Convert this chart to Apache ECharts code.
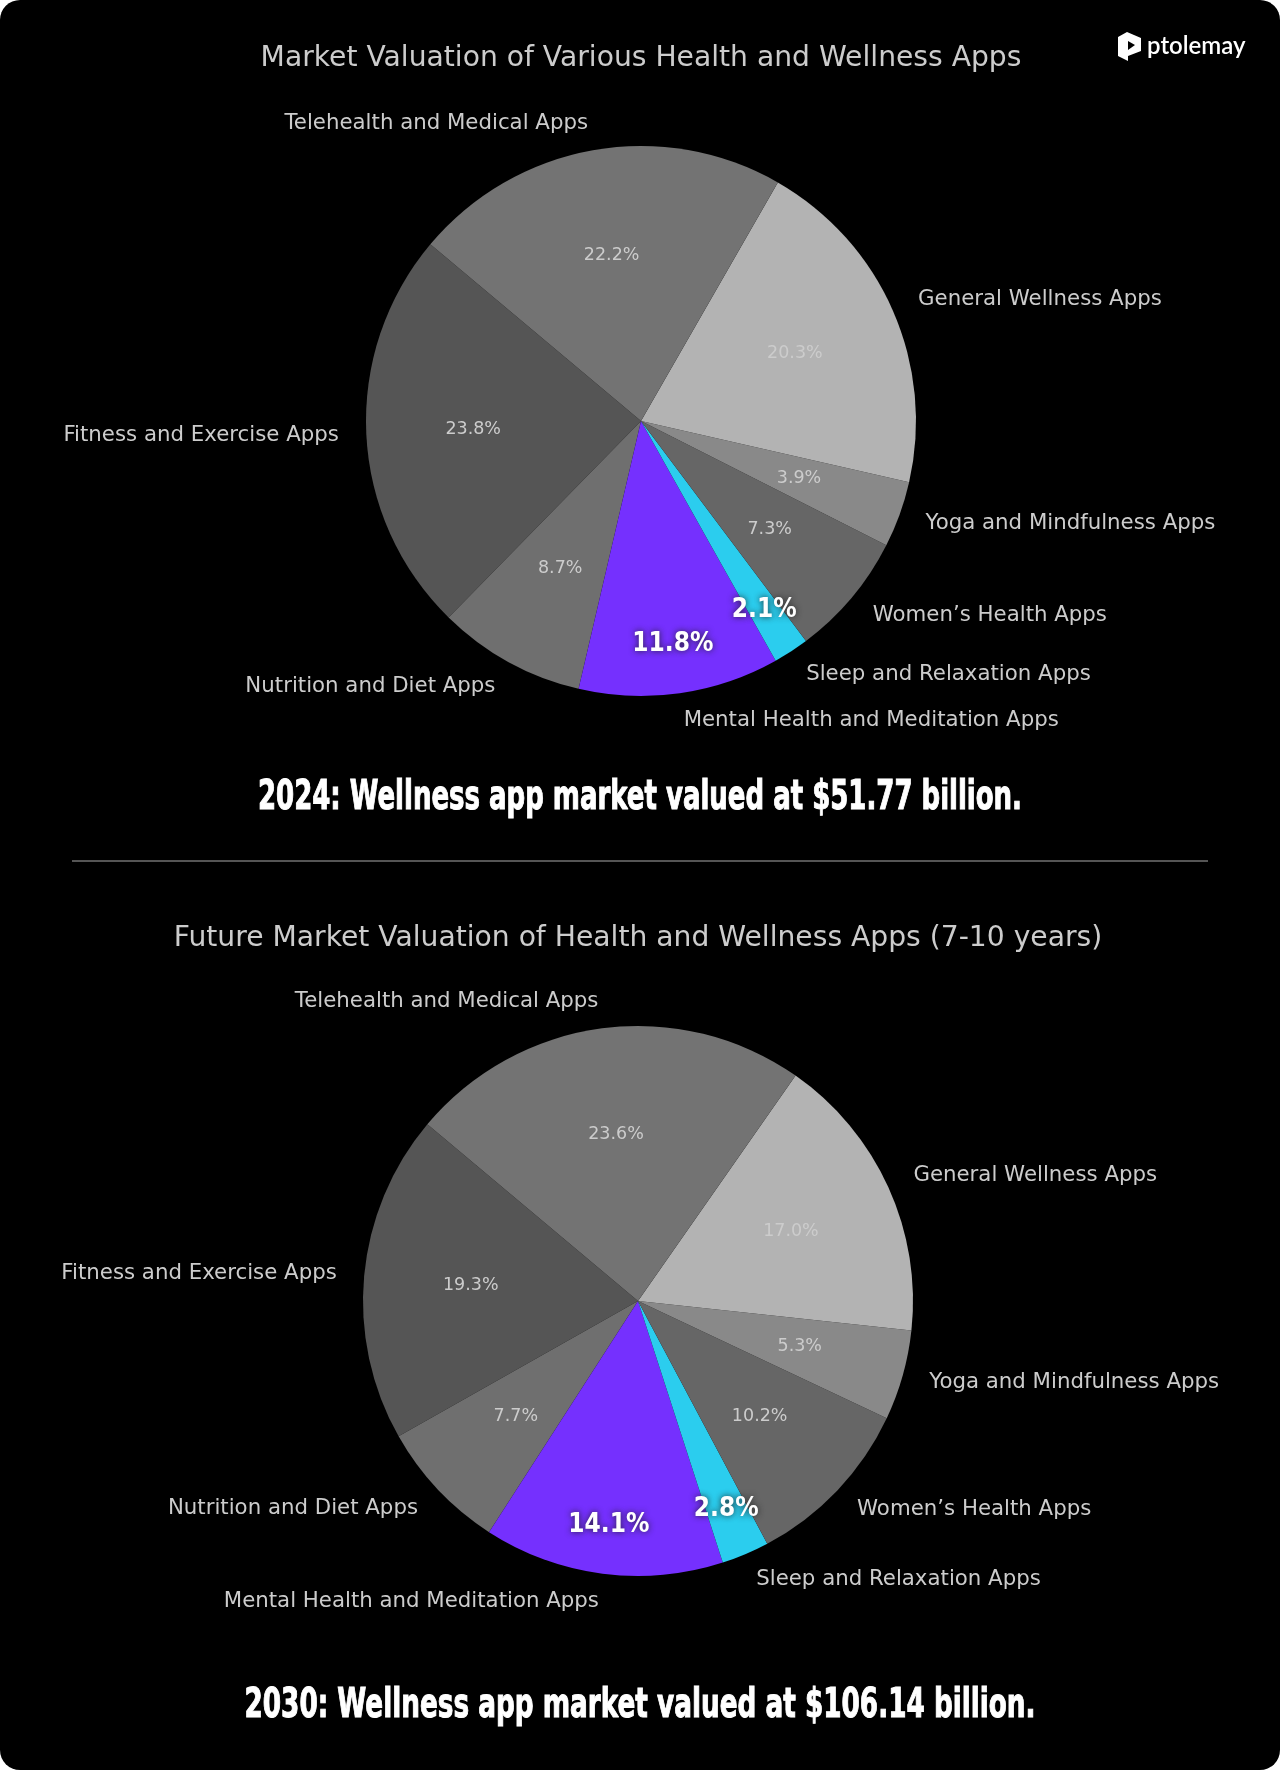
<!DOCTYPE html>
<html>
<head>
<meta charset="utf-8">
<title>Market Valuation of Health and Wellness Apps</title>
<script src="https://cdn.jsdelivr.net/npm/echarts@6/dist/echarts.min.js"></script>
<style>
  html, body { margin: 0; padding: 0; background: #ffffff; }
  #chart { width: 1280px; height: 1770px; background: #000000; border-radius: 20px; overflow: hidden; }
</style>
</head>
<body>
<div id="chart"></div>
<script>
// slices in drawing order (counter-clockwise from 140 degrees)
const categories = [
  "Fitness and Exercise Apps",
  "Nutrition and Diet Apps",
  "Mental Health and Meditation Apps",
  "Sleep and Relaxation Apps",
  "Women’s Health Apps",
  "Yoga and Mindfulness Apps",
  "General Wellness Apps",
  "Telehealth and Medical Apps"
];
const share2024 = [23.8, 8.7, 11.8, 2.1, 7.3, 3.9, 20.3, 22.2];
const share2030 = [19.3, 7.7, 14.1, 2.8, 10.2, 5.3, 17.0, 23.6];
const highlighted = ["Mental Health and Meditation Apps", "Sleep and Relaxation Apps"];
const sliceColors = ["#555555", "#6f6f6f", "#7530fe", "#2bcdee", "#666666", "#898989", "#b3b3b3", "#737373"];

const chartTitles = [
  "Market Valuation of Various Health and Wellness Apps",
  "Future Market Valuation of Health and Wellness Apps (7-10 years)"
];
const captions = [
  "2024: Wellness app market valued at $51.77 billion.",
  "2030: Wellness app market valued at $106.14 billion."
];

const R = 275;

// pick a narrow heavy font that is actually installed
const probe = document.createElement("canvas").getContext("2d");
function textWidth(text, font) {
  probe.font = font;
  return probe.measureText(text).width;
}
function hasFont(family) {
  const s = "abcdefghijklmnopqrstuvwxyz0123456789%$.";
  return textWidth(s, 'bold 40px "' + family + '", monospace') !== textWidth(s, "bold 40px monospace");
}
const heavyFamily = ["Liberation Sans Narrow", "DejaVu Sans Condensed", "DejaVu Sans"].find(hasFont) || "sans-serif";
const heavyFont = '"' + heavyFamily + '"';
const bigSize = Math.round(80 * 100 / textWidth("11.8%", "bold 100px " + heavyFont));

function pieSeries(values, center) {
  const base = {
    type: "pie",
    center: center,
    startAngle: 140,
    clockwise: false,
    avoidLabelOverlap: false,
    silent: true,
    animation: false,
    emphasis: { disabled: true },
    labelLine: { show: false }
  };
  const slices = categories.map((name, i) => ({
    name: name,
    value: values[i],
    itemStyle: { color: sliceColors[i] }
  }));
  const ghost = (showFn) => categories.map((name, i) => ({
    name: name,
    value: values[i],
    itemStyle: { color: "transparent" },
    label: { show: showFn(name) }
  }));
  return [
    Object.assign({}, base, {
      radius: R,
      data: slices,
      label: {
        position: "outside",
        formatter: "{b}",
        color: "#cccccc",
        fontSize: 21.3,
        fontFamily: "DejaVu Sans",
        distanceToLabelLine: 0
      },
      labelLine: { show: false, length: R * 0.1, length2: 0 }
    }),
    Object.assign({}, base, {
      radius: [R * 0.2, R],
      data: ghost((n) => highlighted.indexOf(n) < 0),
      label: {
        position: "inside",
        formatter: (p) => p.value.toFixed(1) + "%",
        color: "#cccccc",
        fontSize: 17.5,
        fontFamily: "DejaVu Sans",
        textBorderWidth: 0
      }
    }),
    Object.assign({}, base, {
      radius: [R * 0.62, R],
      data: ghost((n) => highlighted.indexOf(n) >= 0),
      label: {
        position: "inside",
        formatter: (p) => p.value.toFixed(1) + "%",
        color: "#ffffff",
        fontSize: bigSize,
        fontWeight: "bold",
        fontFamily: heavyFamily,
        textBorderWidth: 0,
        textShadowColor: "rgba(30,30,30,0.9)",
        textShadowBlur: 6
      }
    })
  ];
}

function caption(text, x, y, targetWidth) {
  const font = "bold 40px " + heavyFont;
  return {
    type: "text",
    x: x,
    y: y,
    scaleX: targetWidth / textWidth(text, font),
    silent: true,
    style: {
      text: text,
      fill: "#ffffff",
      stroke: "#ffffff",
      lineWidth: 1,
      font: font,
      align: "center",
      verticalAlign: "middle"
    }
  };
}

function title(text, x, y) {
  return {
    type: "text",
    x: x,
    y: y,
    silent: true,
    style: {
      text: text,
      fill: "#cccccc",
      font: '28.2px "DejaVu Sans"',
      align: "center",
      verticalAlign: "middle"
    }
  };
}

const chart = echarts.init(document.getElementById("chart"), null, { renderer: "canvas" });
chart.setOption({
  backgroundColor: "transparent",
  animation: false,
  series: [].concat(pieSeries(share2024, [641, 421]), pieSeries(share2030, [638, 1301])),
  graphic: [
    title(chartTitles[0], 641, 59),
    title(chartTitles[1], 638, 939),
    caption(captions[0], 640, 799, 764),
    caption(captions[1], 640, 1707, 791),
    {
      type: "line",
      silent: true,
      shape: { x1: 72, y1: 861, x2: 1208, y2: 861 },
      style: { stroke: "#555555", lineWidth: 2 }
    },
    // logo
    {
      type: "polygon",
      silent: true,
      shape: { points: [[1118, 37], [1127, 32], [1141, 38], [1141, 51], [1128, 56], [1128, 61], [1118, 56]] },
      style: { fill: "#ffffff" }
    },
    {
      type: "polygon",
      silent: true,
      shape: { points: [[1128, 41], [1135, 45], [1128, 50]] },
      style: { fill: "#000000" }
    },
    {
      type: "text",
      x: 1147,
      y: 46,
      silent: true,
      style: {
        text: "ptolemay",
        fill: "#ffffff",
        font: '600 24px "Lato", "Open Sans", sans-serif',
        align: "left",
        verticalAlign: "middle"
      }
    }
  ]
});
</script>
</body>
</html>
